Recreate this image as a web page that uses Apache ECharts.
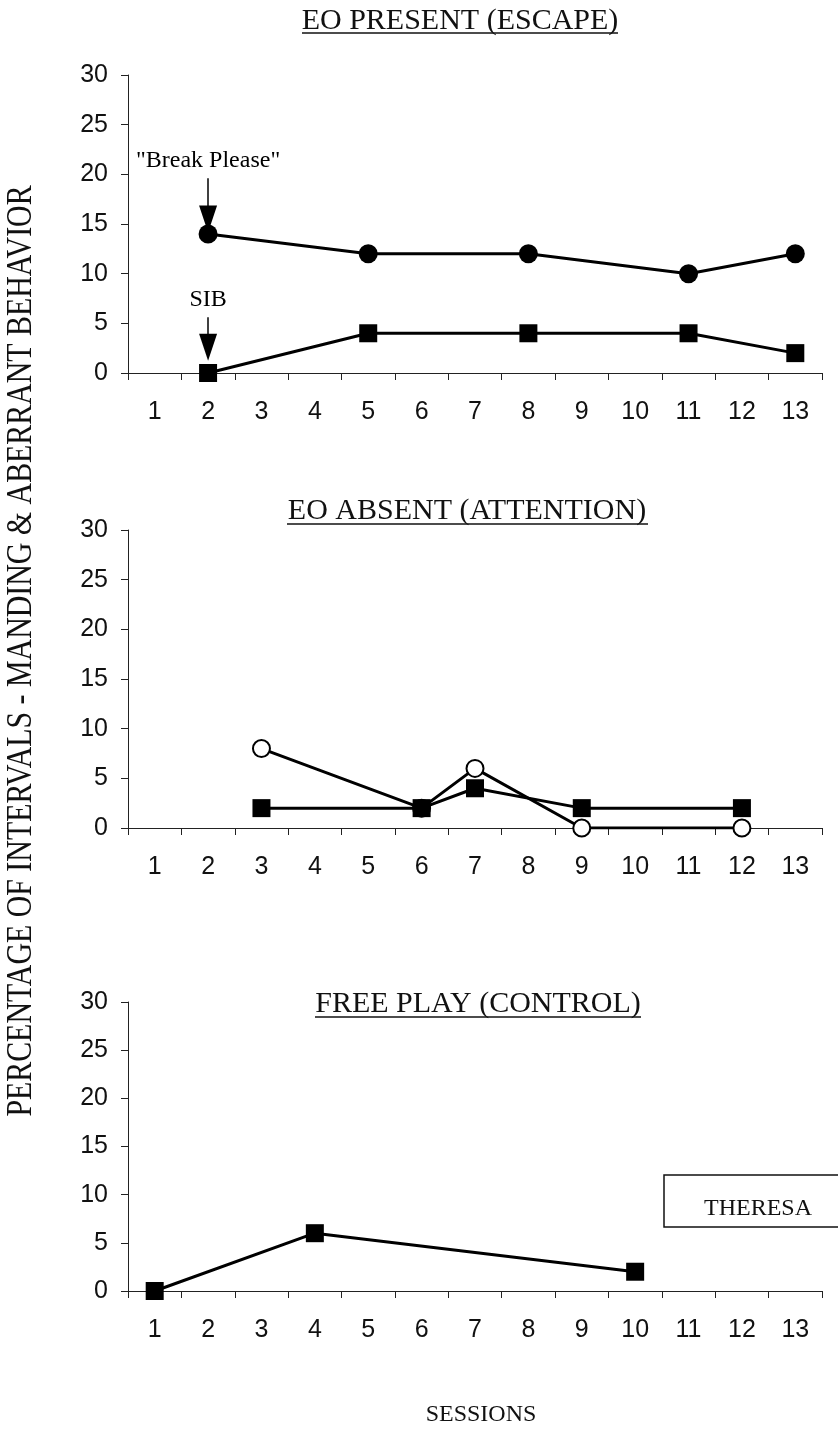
<!DOCTYPE html>
<html>
<head>
<meta charset="utf-8">
<script src="https://cdn.jsdelivr.net/npm/echarts@6/dist/echarts.min.js"></script>
<style>html,body{margin:0;padding:0;background:#fff}#c{width:838px;height:1431px}</style>
</head>
<body>
<div id="c"></div>
<script>
// ---- data ----
const sessionLabels = ['1','2','3','4','5','6','7','8','9','10','11','12','13'];
const yTicks = [0, 5, 10, 15, 20, 25, 30];

const panelTitles = ['EO PRESENT (ESCAPE)', 'EO ABSENT (ATTENTION)', 'FREE PLAY (CONTROL)'];

// Panel 1: EO present (escape)
const escapeSessions = [2, 5, 8, 11, 13];
const escapeManding  = [14, 12, 12, 10, 12];
const escapeSIB      = [0, 4, 4, 4, 2];

// Panel 2: EO absent (attention)
const attnSessions = [3, 6, 7, 9, 12];
const attnManding  = [8, 2, 6, 0, 0];
const attnSIB      = [2, 2, 4, 2, 2];

// Panel 3: free play (control)
const controlSessions = [1, 4, 10];
const controlSIB      = [0, 6, 2];

const yAxisTitle = 'PERCENTAGE OF INTERVALS - MANDING & ABERRANT BEHAVIOR';
const xAxisTitle = 'SESSIONS';
const subjectName = 'THERESA';

// ---- helpers ----
const pairs = (xs, ys) => xs.map((x, i) => [String(x), ys[i]]);
const SANS = '"Liberation Sans Narrow", "Liberation Sans"';
const SERIF = 'Liberation Serif';

const grids = [
  { left: 128, right: 16, top: 75, height: 298 },
  { left: 128, right: 16, top: 530, height: 298 },
  { left: 128, right: 16, top: 1002, height: 289 }
];

const xAxes = grids.map((g, i) => ({
  gridIndex: i, type: 'category', data: sessionLabels, boundaryGap: true,
  axisLine: { show: true, lineStyle: { color: '#222', width: 1 } },
  axisTick: { show: true, interval: 0, length: 7, lineStyle: { color: '#222' } },
  axisLabel: { interval: 0, margin: 27, fontFamily: SANS, fontSize: 25, color: '#111' },
  splitLine: { show: false }
}));
const yAxes = grids.map((g, i) => ({
  gridIndex: i, type: 'value', min: yTicks[0], max: yTicks[yTicks.length - 1], interval: 5,
  axisLine: { show: true, lineStyle: { color: '#222', width: 1 } },
  axisTick: { show: true, length: 7, lineStyle: { color: '#222' } },
  axisLabel: { margin: 20, fontFamily: SANS, fontSize: 25, color: '#111' },
  splitLine: { show: false }
}));

const lineStyle = { color: '#000', width: 3 };
const filledCircle = { type: 'line', symbol: 'circle', symbolSize: 19, lineStyle, itemStyle: { color: '#000' }, z: 3 };
const filledSquare = { type: 'line', symbol: 'rect', symbolSize: 18, lineStyle, itemStyle: { color: '#000' }, z: 4 };
const openCircle = { type: 'line', symbol: 'circle', symbolSize: 17, lineStyle, itemStyle: { color: '#fff', borderColor: '#000', borderWidth: 2 }, z: 3 };

// annotation arrows sit slightly left of the session-2 points (category index ~0.83)
function arrow(text, catPos, fromVal, toVal) {
  return {
    silent: true, symbol: ['none', 'triangle'], symbolSize: [18, 27], precision: 2,
    lineStyle: { color: '#000', width: 1.5, type: 'solid' },
    itemStyle: { color: '#000' },
    label: { show: true, position: 'start', formatter: text, fontFamily: SERIF, fontSize: 24, color: '#000', distance: 6 },
    emphasis: { disabled: true },
    data: [[{ coord: [catPos, fromVal] }, { coord: [catPos, toVal] }]]
  };
}

const series = [
  Object.assign({}, filledCircle, { name: 'Manding', xAxisIndex: 0, yAxisIndex: 0, data: pairs(escapeSessions, escapeManding),
    markLine: arrow('"Break Please"', 0.84, 19.6, 15.5) }),
  Object.assign({}, filledSquare, { name: 'SIB', xAxisIndex: 0, yAxisIndex: 0, data: pairs(escapeSessions, escapeSIB),
    markLine: arrow('SIB', 0.84, 5.6, 2.6) }),
  Object.assign({}, openCircle, { name: 'Manding (attn)', xAxisIndex: 1, yAxisIndex: 1, data: pairs(attnSessions, attnManding) }),
  Object.assign({}, filledSquare, { name: 'SIB (attn)', xAxisIndex: 1, yAxisIndex: 1, data: pairs(attnSessions, attnSIB) }),
  Object.assign({}, filledSquare, { name: 'SIB (control)', xAxisIndex: 2, yAxisIndex: 2, data: pairs(controlSessions, controlSIB) })
];

const titleText = (text, x, y) => ({ type: 'text', x, y, silent: true,
  style: { text, font: '30px "Liberation Serif"', fill: '#111', align: 'center', verticalAlign: 'middle' } });
const underline = (x1, x2, y) => ({ type: 'line', shape: { x1, y1: y, x2, y2: y }, style: { stroke: '#111', lineWidth: 1.3 }, silent: true });

const graphic = [
  titleText(panelTitles[0], 460, 21),
  underline(302, 618, 33),
  titleText(panelTitles[1], 467, 511),
  underline(287, 648, 524),
  titleText(panelTitles[2], 478, 1004),
  underline(315, 641, 1017),
  { type: 'text', x: 22, y: 651, rotation: Math.PI / 2, scaleX: 0.83, silent: true,
    style: { text: yAxisTitle, font: '36px "Liberation Serif"', fill: '#111', align: 'center', verticalAlign: 'middle' } },
  { type: 'text', x: 481, y: 1415, silent: true,
    style: { text: xAxisTitle, font: '24px "Liberation Serif"', fill: '#111', align: 'center', verticalAlign: 'middle' } },
  { type: 'rect', shape: { x: 664, y: 1175, width: 200, height: 52 }, silent: true,
    style: { fill: '#fff', stroke: '#111', lineWidth: 1.5 } },
  { type: 'text', x: 758, y: 1209, silent: true,
    style: { text: subjectName, font: '24px "Liberation Serif"', fill: '#111', align: 'center', verticalAlign: 'middle' } }
];

const chart = echarts.init(document.getElementById('c'), null, { renderer: 'canvas' });
chart.setOption({
  animation: false,
  backgroundColor: '#fff',
  grid: grids,
  xAxis: xAxes,
  yAxis: yAxes,
  series,
  graphic
});
</script>
</body>
</html>
